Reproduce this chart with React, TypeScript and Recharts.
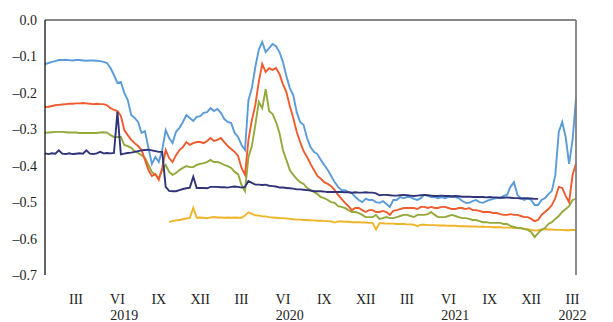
import React from "react";
import { LineChart, Line, XAxis, YAxis, ReferenceLine } from "recharts";

// weekly observations, first one at month 0.25 (early Jan 2019), step = 1/4 month
const START = 0.25;
const STEP = 0.25;

const blue = [
  -0.121, -0.118, -0.115, -0.113, -0.110, -0.110, -0.109, -0.110, -0.111, -0.110,
  -0.110, -0.111, -0.112, -0.111, -0.111, -0.112, -0.113, -0.115, -0.118, -0.132,
  -0.151, -0.173, -0.170, -0.200, -0.220, -0.261, -0.269, -0.280, -0.310, -0.305,
  -0.351, -0.395, -0.376, -0.390, -0.357, -0.302, -0.324, -0.338, -0.307, -0.296,
  -0.280, -0.261, -0.269, -0.277, -0.266, -0.264, -0.255, -0.253, -0.242, -0.250,
  -0.244, -0.255, -0.272, -0.280, -0.283, -0.310, -0.321, -0.343, -0.357, -0.220,
  -0.187, -0.129, -0.082, -0.060, -0.088, -0.077, -0.066, -0.072, -0.088, -0.115,
  -0.154, -0.187, -0.206, -0.253, -0.280, -0.288, -0.324, -0.349, -0.362, -0.368,
  -0.384, -0.398, -0.412, -0.428, -0.445, -0.458, -0.467, -0.467, -0.472, -0.475,
  -0.486, -0.494, -0.500, -0.491, -0.494, -0.494, -0.500, -0.502, -0.497, -0.505,
  -0.513, -0.494, -0.494, -0.486, -0.489, -0.486, -0.486, -0.491, -0.494, -0.489,
  -0.480, -0.483, -0.486, -0.486, -0.489, -0.486, -0.489, -0.486, -0.486, -0.486,
  -0.489, -0.497, -0.502, -0.502, -0.497, -0.494, -0.500, -0.502, -0.497, -0.494,
  -0.491, -0.489, -0.489, -0.483, -0.480, -0.458, -0.445, -0.480, -0.489, -0.494,
  -0.489, -0.494, -0.508, -0.508, -0.494, -0.489, -0.478, -0.469, -0.426, -0.307,
  -0.280, -0.321, -0.395, -0.330, -0.215,
];

const red = [
  -0.239, -0.238, -0.236, -0.234, -0.233, -0.232, -0.231, -0.230, -0.230, -0.229,
  -0.229, -0.228, -0.229, -0.230, -0.231, -0.230, -0.231, -0.231, -0.234, -0.242,
  -0.247, -0.250, -0.263, -0.302, -0.316, -0.329, -0.338, -0.346, -0.357, -0.384,
  -0.412, -0.428, -0.423, -0.439, -0.406, -0.357, -0.379, -0.390, -0.371, -0.357,
  -0.349, -0.335, -0.343, -0.338, -0.335, -0.335, -0.338, -0.332, -0.324, -0.332,
  -0.329, -0.324, -0.335, -0.346, -0.354, -0.362, -0.373, -0.406, -0.425, -0.329,
  -0.275, -0.233, -0.170, -0.121, -0.143, -0.132, -0.137, -0.132, -0.148, -0.176,
  -0.198, -0.236, -0.269, -0.307, -0.335, -0.360, -0.376, -0.395, -0.412, -0.428,
  -0.436, -0.445, -0.450, -0.456, -0.467, -0.480, -0.491, -0.502, -0.511, -0.522,
  -0.516, -0.516, -0.522, -0.527, -0.522, -0.522, -0.527, -0.527, -0.524, -0.527,
  -0.535, -0.524, -0.522, -0.519, -0.516, -0.516, -0.516, -0.516, -0.519, -0.513,
  -0.513, -0.516, -0.513, -0.516, -0.516, -0.513, -0.513, -0.516, -0.519, -0.519,
  -0.516, -0.516, -0.519, -0.516, -0.522, -0.522, -0.524, -0.527, -0.527, -0.527,
  -0.530, -0.530, -0.533, -0.535, -0.535, -0.533, -0.535, -0.535, -0.538, -0.541,
  -0.541, -0.546, -0.552, -0.549, -0.535, -0.527, -0.519, -0.508, -0.489, -0.458,
  -0.461, -0.483, -0.500, -0.426, -0.393,
];

const green = [
  -0.310, -0.309, -0.308, -0.307, -0.307, -0.307, -0.308, -0.309, -0.309, -0.309,
  -0.310, -0.310, -0.310, -0.310, -0.310, -0.310, -0.309, -0.308, -0.309, -0.316,
  -0.321, -0.321, -0.321, -0.343, -0.346, -0.351, -0.360, -0.365, -0.371, -0.379,
  -0.398, -0.417, -0.425, -0.434, -0.412, -0.398, -0.417, -0.425, -0.420, -0.412,
  -0.406, -0.401, -0.404, -0.404, -0.398, -0.395, -0.393, -0.390, -0.384, -0.390,
  -0.390, -0.393, -0.398, -0.401, -0.406, -0.417, -0.423, -0.453, -0.470, -0.376,
  -0.346, -0.288, -0.225, -0.242, -0.190, -0.250, -0.258, -0.280, -0.310, -0.357,
  -0.384, -0.412, -0.425, -0.436, -0.445, -0.450, -0.461, -0.467, -0.472, -0.478,
  -0.486, -0.489, -0.494, -0.500, -0.502, -0.511, -0.513, -0.516, -0.522, -0.527,
  -0.527, -0.530, -0.535, -0.541, -0.541, -0.541, -0.535, -0.546, -0.544, -0.541,
  -0.544, -0.544, -0.541, -0.538, -0.535, -0.535, -0.538, -0.541, -0.535, -0.535,
  -0.535, -0.533, -0.527, -0.535, -0.541, -0.541, -0.541, -0.538, -0.535, -0.538,
  -0.541, -0.544, -0.544, -0.546, -0.549, -0.549, -0.552, -0.555, -0.555, -0.557,
  -0.557, -0.557, -0.557, -0.560, -0.560, -0.565, -0.568, -0.571, -0.571, -0.574,
  -0.576, -0.582, -0.596, -0.585, -0.576, -0.571, -0.560, -0.555, -0.546, -0.538,
  -0.527, -0.519, -0.511, -0.494, -0.491,
];

// navy series stops in December 2021
const navy = [
  -0.366, -0.368, -0.366, -0.367, -0.358, -0.367, -0.368, -0.366, -0.368, -0.367,
  -0.366, -0.367, -0.358, -0.367, -0.368, -0.366, -0.362, -0.366, -0.365, -0.366,
  -0.365, -0.252, -0.369, -0.367, -0.365, -0.364, -0.362, -0.360, -0.358, -0.357,
  -0.356, -0.358, -0.360, -0.362, -0.362, -0.458, -0.469, -0.470, -0.470, -0.467,
  -0.464, -0.462, -0.460, -0.430, -0.461, -0.461, -0.461, -0.462, -0.458, -0.458,
  -0.458, -0.459, -0.459, -0.460, -0.458, -0.457, -0.458, -0.460, -0.458, -0.442,
  -0.447, -0.452, -0.452, -0.453, -0.452, -0.455, -0.456, -0.457, -0.460, -0.460,
  -0.461, -0.462, -0.463, -0.465, -0.465, -0.466, -0.467, -0.468, -0.470, -0.470,
  -0.470, -0.471, -0.472, -0.472, -0.472, -0.472, -0.472, -0.473, -0.473, -0.474,
  -0.473, -0.474, -0.474, -0.473, -0.474, -0.474, -0.476, -0.481, -0.480, -0.480,
  -0.481, -0.482, -0.482, -0.481, -0.480, -0.481, -0.482, -0.483, -0.482, -0.481,
  -0.480, -0.481, -0.482, -0.483, -0.483, -0.482, -0.483, -0.483, -0.484, -0.483,
  -0.484, -0.485, -0.485, -0.485, -0.486, -0.486, -0.486, -0.486, -0.487, -0.486,
  -0.487, -0.487, -0.488, -0.488, -0.487, -0.488, -0.489, -0.489, -0.490, -0.489,
  -0.490, -0.490, -0.491, -0.491,
];

// yellow series begins in November 2019 (week index 36)
const YELLOW_START = 36;
const yellow = [
  -0.554, -0.552, -0.550, -0.549, -0.547, -0.545, -0.543, -0.516, -0.543, -0.542,
  -0.543, -0.544, -0.542, -0.541, -0.542, -0.542, -0.543, -0.542, -0.543, -0.542,
  -0.543, -0.543, -0.537, -0.528, -0.532, -0.536, -0.537, -0.539, -0.539, -0.541,
  -0.542, -0.543, -0.544, -0.544, -0.545, -0.546, -0.547, -0.548, -0.548, -0.549,
  -0.549, -0.550, -0.550, -0.551, -0.551, -0.552, -0.552, -0.553, -0.556, -0.553,
  -0.553, -0.554, -0.554, -0.555, -0.555, -0.555, -0.556, -0.556, -0.557, -0.557,
  -0.575, -0.558, -0.558, -0.559, -0.559, -0.559, -0.560, -0.560, -0.560, -0.561,
  -0.561, -0.562, -0.566, -0.562, -0.562, -0.563, -0.563, -0.563, -0.564, -0.564,
  -0.564, -0.565, -0.565, -0.565, -0.566, -0.566, -0.566, -0.567, -0.567, -0.567,
  -0.568, -0.567, -0.568, -0.568, -0.569, -0.569, -0.569, -0.570, -0.570, -0.570,
  -0.571, -0.571, -0.572, -0.573, -0.574, -0.576, -0.578, -0.577, -0.575, -0.574,
  -0.575, -0.575, -0.576, -0.576, -0.576, -0.577, -0.577, -0.576, -0.577,
];

const monthTicks = [2.5, 5.5, 8.5, 11.5, 14.5, 17.5, 20.5, 23.5, 26.5, 29.5, 32.5, 35.5, 38.5];
const monthLabels = ["III", "VI", "IX", "XII", "III", "VI", "IX", "XII", "III", "VI", "IX", "XII", "III"];
const yearTicks = [6, 18, 30, 38.5];
const yearLabels = ["2019", "2020", "2021", "2022"];
const yTicks = [0, -0.1, -0.2, -0.3, -0.4, -0.5, -0.6, -0.7];

const data = blue.map((b, i) => ({
  m: START + STEP * i,
  blue: b,
  red: red[i],
  green: green[i],
  navy: i < navy.length ? navy[i] : null,
  yellow: i >= YELLOW_START ? yellow[i - YELLOW_START] : null,
}));

const FONT = '"Liberation Serif", "Times New Roman", serif';
const fmt = (v: number) => (v === 0 ? "0.0" : "\u2013" + Math.abs(v).toFixed(1));

const LeftTick = ({ x, y, payload }: any) => (
  <text x={x - 6} y={y} dy="0.355em" textAnchor="end" fontFamily={FONT} fontSize={14} fill="#222">
    {fmt(payload.value)}
  </text>
);

const RightTick = ({ x, y, payload }: any) => (
  <text x={x + 36} y={y} dy="0.355em" textAnchor="end" fontFamily={FONT} fontSize={14} fill="#222">
    {fmt(payload.value)}
  </text>
);

const MonthTick = ({ x, y, payload }: any) => {
  const idx = monthTicks.indexOf(payload.value);
  return (
    <text x={x} y={y + 27} textAnchor="middle" fontFamily={FONT} fontSize={14} fill="#222">
      {monthLabels[idx]}
    </text>
  );
};

const YearTick = ({ x, y, payload }: any) => {
  const idx = yearTicks.indexOf(payload.value);
  return (
    <text x={x} y={y + 18} textAnchor="middle" fontFamily={FONT} fontSize={14} fill="#222">
      {yearLabels[idx]}
    </text>
  );
};

export default function App() {
  return (
    <div style={{ position: "absolute", left: 0, top: 0, background: "#fff" }}>
      <LineChart width={613} height={322} data={data} margin={{ top: 20, right: 0, bottom: 0, left: 0 }}>
        <XAxis
          xAxisId="m"
          dataKey="m"
          type="number"
          domain={[0.25, 38.75]}
          ticks={monthTicks}
          tick={<MonthTick />}
          axisLine={false}
          tickLine={false}
          tickSize={0}
          height={25}
          interval={0}
        />
        <XAxis
          xAxisId="year"
          dataKey="m"
          type="number"
          domain={[0.25, 38.75]}
          ticks={yearTicks}
          tick={<YearTick />}
          axisLine={false}
          tickLine={false}
          tickSize={0}
          height={22}
          interval={0}
        />
        <YAxis
          yAxisId="left"
          orientation="left"
          domain={[-0.7, 0]}
          ticks={yTicks}
          tick={<LeftTick />}
          width={45}
          tickLine={false}
          tickSize={0}
          axisLine={{ stroke: "#111", strokeWidth: 1.3 }}
          interval={0}
        />
        <YAxis
          yAxisId="right"
          orientation="right"
          domain={[-0.7, 0]}
          ticks={yTicks}
          tick={<RightTick />}
          width={37}
          tickLine={false}
          tickSize={0}
          axisLine={{ stroke: "#808080", strokeWidth: 1.8 }}
          interval={0}
        />
        <ReferenceLine xAxisId="m" yAxisId="left" y={0} stroke="#111" strokeWidth={1.2} />
        <Line xAxisId="m" yAxisId="left" type="linear" dataKey="yellow" stroke="#efb428" strokeWidth={1.9} dot={false} isAnimationActive={false} />
        <Line xAxisId="m" yAxisId="left" type="linear" dataKey="green" stroke="#93a93c" strokeWidth={1.9} dot={false} isAnimationActive={false} />
        <Line xAxisId="m" yAxisId="left" type="linear" dataKey="red" stroke="#f05b2e" strokeWidth={1.9} dot={false} isAnimationActive={false} />
        <Line xAxisId="m" yAxisId="left" type="linear" dataKey="blue" stroke="#5b9bd8" strokeWidth={1.9} dot={false} isAnimationActive={false} />
        <Line xAxisId="m" yAxisId="left" type="linear" dataKey="navy" stroke="#2f3479" strokeWidth={1.9} dot={false} isAnimationActive={false} />
      </LineChart>
    </div>
  );
}
